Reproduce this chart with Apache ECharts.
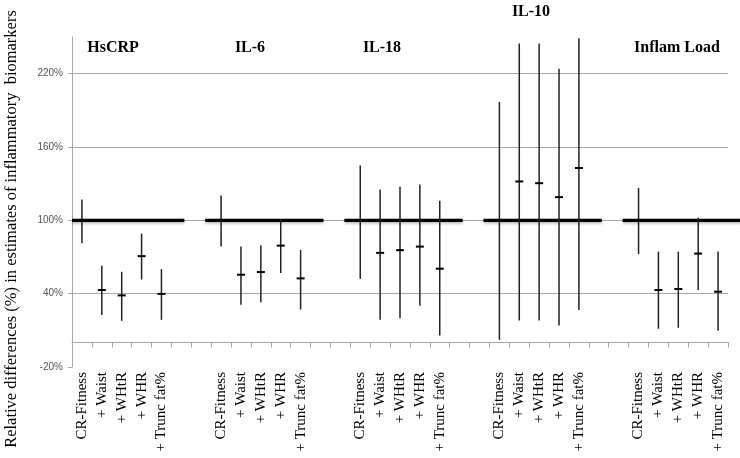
<!DOCTYPE html>
<html><head><meta charset="utf-8">
<script src="https://cdn.jsdelivr.net/npm/echarts@6/dist/echarts.min.js"></script>
<style>html,body{margin:0;padding:0;background:#fff}#c{width:740px;height:458px}</style>
</head><body><div id="c"></div>
<script>
// ---- data ----
const groups = ['HsCRP', 'IL-6', 'IL-18', 'IL-10', 'Inflam Load'];
const models = ['CR-Fitness', '+ Waist', '+ WHtR', '+ WHR', '+ Trunc fat%'];

const estHsCRP  = [100, 43.0, 38.6, 70.7, 39.8];
const lowHsCRP  = [81.3, 22.6, 17.8, 51.6, 18.6];
const highHsCRP = [117.1, 62.8, 57.9, 89.1, 60.1];

const estIL6  = [100, 55.5, 57.7, 79.3, 52.5];
const lowIL6  = [78.5, 31.0, 32.9, 56.9, 27.0];
const highIL6 = [120.4, 78.5, 79.6, 100.8, 75.8];

const estIL18  = [100, 73.4, 75.6, 78.5, 60.4];
const lowIL18  = [52.2, 18.6, 19.9, 30.2, 5.8];
const highIL18 = [144.8, 125.2, 127.4, 129.3, 116.0];

const estIL10  = [100, 131.8, 130.4, 119.0, 142.8];
const lowIL10  = [2.3, 18.0, 18.0, 13.9, 26.7];
const highIL10 = [196.9, 244.6, 244.6, 224.0, 249.0];

const estLoad  = [100, 43.0, 43.8, 72.8, 41.6];
const lowLoad  = [72.3, 11.3, 12.1, 43.0, 9.6];
const highLoad = [126.5, 74.4, 74.4, 102.1, 74.4];

const referenceValue = 100;
const gapSlots = 2;
const yTickValues = [-20, 40, 100, 160, 220];
const yMax = 250;
const yTitle = 'Relative differences (%) in estimates of inflammatory  biomarkers';

// ---- build ----
const estAll = [estHsCRP, estIL6, estIL18, estIL10, estLoad];
const lowAll = [lowHsCRP, lowIL6, lowIL18, lowIL10, lowLoad];
const highAll = [highHsCRP, highIL6, highIL18, highIL10, highLoad];

const categories = [];
const barData = [];
const refData = [];
groups.forEach((g, gi) => {
  refData.push([categories.length, referenceValue, gi]);
  models.forEach((m, mi) => {
    barData.push([categories.length, lowAll[gi][mi], highAll[gi][mi], estAll[gi][mi]]);
    categories.push(m);
  });
  if (gi < groups.length - 1) for (let k = 0; k < gapSlots; k++) categories.push('');
});

const serif = '"Liberation Serif", "Times New Roman", serif';
const sans = '"Liberation Sans", Arial, sans-serif';
const gridCol = '#a8a8a8';

const chart = echarts.init(document.getElementById('c'), null, {renderer: 'canvas'});
chart.setOption({
  animation: false,
  backgroundColor: '#fff',
  grid: {left: 72, right: 12, top: 37, bottom: 91, containLabel: false},
  xAxis: {
    type: 'category',
    data: categories,
    axisLine: {show: true, lineStyle: {color: gridCol, width: 1}},
    axisTick: {show: true, interval: 0, length: 5, lineStyle: {color: gridCol}},
    axisLabel: {interval: 0, rotate: 90, margin: 5, fontFamily: serif, fontSize: 15, color: '#000'},
    splitLine: {show: false}
  },
  yAxis: {
    type: 'value',
    min: yTickValues[0],
    max: yMax,
    interval: yTickValues[1] - yTickValues[0],
    axisLine: {show: true, lineStyle: {color: gridCol}},
    axisTick: {show: true, length: 4, lineStyle: {color: gridCol}},
    axisLabel: {formatter: '{value}%', fontFamily: sans, fontSize: 10, color: '#555', margin: 9, showMaxLabel: false},
    splitLine: {show: true, showMaxLine: false, showMinLine: false, lineStyle: {color: gridCol, width: 1}}
  },
  graphic: [
    {type: 'text', x: 12, y: 229, rotation: Math.PI / 2,
     style: {text: yTitle, font: '16.5px ' + serif, fill: '#000', textAlign: 'center', textVerticalAlign: 'middle'}},
    {type: 'text', x: 113, y: 48, style: {text: groups[0], font: 'bold 16px ' + serif, fill: '#000', textAlign: 'center', textVerticalAlign: 'middle'}},
    {type: 'text', x: 250, y: 48, style: {text: groups[1], font: 'bold 16px ' + serif, fill: '#000', textAlign: 'center', textVerticalAlign: 'middle'}},
    {type: 'text', x: 382, y: 48, style: {text: groups[2], font: 'bold 16px ' + serif, fill: '#000', textAlign: 'center', textVerticalAlign: 'middle'}},
    {type: 'text', x: 531, y: 12, style: {text: groups[3], font: 'bold 16px ' + serif, fill: '#000', textAlign: 'center', textVerticalAlign: 'middle'}},
    {type: 'text', x: 677, y: 48, style: {text: groups[4], font: 'bold 16px ' + serif, fill: '#000', textAlign: 'center', textVerticalAlign: 'middle'}}
  ],
  series: [
    {
      type: 'custom',
      name: 'reference',
      clip: false,
      z: 3,
      data: refData,
      encode: {x: 0, y: 1},
      renderItem: function (params, api) {
        const c = api.coord([api.value(0), api.value(1)]);
        const slot = api.size([1, 0])[0];
        const x1 = Math.max(c[0] - 0.8 * slot, params.coordSys.x);
        const x2 = c[0] + 5.15 * slot;
        return {type: 'line', shape: {x1: x1, y1: c[1], x2: x2, y2: c[1]},
          style: {stroke: '#000', lineWidth: 3.2, shadowBlur: 3, shadowColor: 'rgba(0,0,0,0.3)', shadowOffsetY: 1.5}};
      }
    },
    {
      type: 'custom',
      name: 'estimates',
      clip: true,
      z: 4,
      data: barData,
      encode: {x: 0, y: [1, 2, 3]},
      renderItem: function (params, api) {
        const x = api.value(0);
        const pLow = api.coord([x, api.value(1)]);
        const pHigh = api.coord([x, Math.min(api.value(2), yMax)]);
        const pEst = api.coord([x, api.value(3)]);
        return {type: 'group', children: [
          {type: 'line', shape: {x1: pLow[0], y1: pLow[1], x2: pHigh[0], y2: pHigh[1]}, style: {stroke: '#222', lineWidth: 1.5}},
          {type: 'line', shape: {x1: pEst[0] - 4, y1: pEst[1], x2: pEst[0] + 4, y2: pEst[1]}, style: {stroke: '#000', lineWidth: 2}}
        ]};
      }
    }
  ]
});
</script>
</body></html>
